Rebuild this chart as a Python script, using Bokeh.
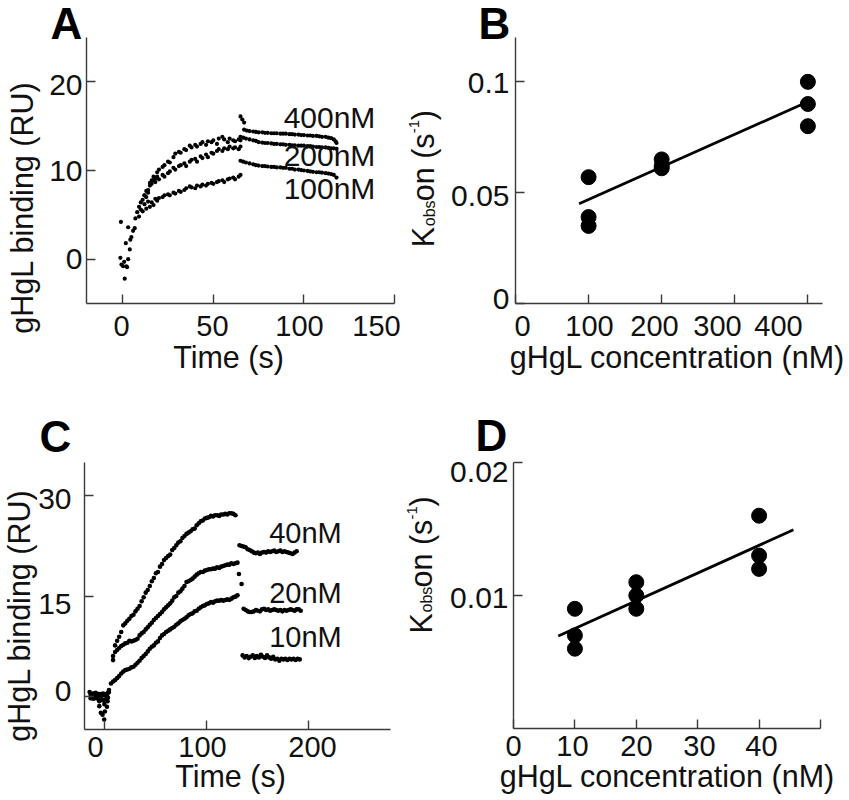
import math
from bokeh.embed import file_html
from bokeh.resources import INLINE
from bokeh.layouts import column, row
from bokeh.models import FixedTicker, Label, LinearAxis, Range1d
from bokeh.plotting import figure

# ---------- panel A: sensorgrams ----------
a_inj_t = [-1, -1.3, -0.7, 0.2, 2, 3, 1.1, 1.7, 4.2, 4.8, 3.9, 3, 5.7, 6.6, 0.8, 2.4]
a_inj_y = [4.2, 0.15, -0.6, -0.8, -0.8, 0, -2.2, 1.8, 2.2, 2.5, 1.1, 3.6, 3.2, 3.5, -0.3, -0.9]
a400_t = [9, 10, 11, 12, 13, 14, 15, 16, 17, 18, 19, 20, 22, 23, 25, 26, 28, 29, 31, 32, 34, 35, 37, 38, 40, 41, 43, 44, 46, 47, 49, 50, 52, 53, 55, 56, 58, 59, 61, 62, 64, 65]
a400_y = [5.9, 6.4, 6.7, 7.2, 7.7, 7.5, 8.6, 8.9, 9.3, 9.1, 9.8, 10.1, 10.4, 10.6, 11.0, 10.9, 11.5, 11.9, 12.1, 12.0, 12.4, 12.3, 12.8, 12.6, 12.9, 12.7, 13.0, 13.2, 12.9, 13.3, 13.2, 13.4, 13.0, 13.6, 13.8, 13.5, 13.2, 13.6, 13.4, 13.3, 13.5, 13.4]
a200_t = [12, 13, 14, 15, 16, 17, 18, 19, 20, 22, 23, 25, 26, 28, 29, 31, 32, 34, 35, 37, 38, 40, 41, 43, 44, 46, 47, 49, 50, 52, 53, 55, 56, 58, 59, 61, 62, 64, 65]
a200_y = [7.2, 7.0, 7.8, 8.3, 8.5, 8.9, 8.7, 9.3, 9.0, 9.5, 9.3, 9.7, 9.9, 10.3, 10.1, 10.5, 10.6, 10.8, 10.5, 11.0, 11.2, 11.3, 11.0, 11.6, 11.4, 11.8, 11.5, 12.0, 11.9, 12.2, 12.4, 12.2, 12.5, 12.4, 12.7, 12.5, 12.6, 12.4, 12.7]
a100_t = [7, 8, 9, 10, 11, 12, 13, 14, 15, 16, 17, 18, 19, 20, 22, 23, 25, 26, 28, 29, 31, 32, 34, 35, 37, 38, 40, 41, 43, 44, 46, 47, 49, 50, 52, 53, 55, 56, 58, 59, 61, 62, 64, 65]
a100_y = [4.6, 5.3, 4.8, 5.6, 5.4, 6.2, 5.7, 6.5, 5.9, 6.4, 6.1, 6.8, 6.6, 6.9, 7.0, 7.2, 7.3, 7.2, 7.5, 7.4, 7.7, 7.6, 7.8, 8.0, 8.2, 8.1, 8.0, 8.3, 8.2, 8.4, 8.3, 8.5, 8.6, 8.5, 8.7, 8.8, 8.9, 8.7, 9.0, 9.1, 9.2, 9.0, 9.3, 9.5]
a_spike_t = [65, 66, 67]
a_spike_y = [16.1, 15.75, 15.4]
a400d_t = [67, 68.5, 70, 72, 73.5, 75, 77, 78.5, 80, 82, 83.5, 85, 87, 88.5, 90, 92, 93.5, 95, 97, 98.5, 100, 102, 103.5, 105, 107, 108.5, 110, 112, 113.5, 115, 116.5, 117.5, 118]
a400d_y = [14.6, 14.5, 14.45, 14.4, 14.35, 14.3, 14.3, 14.25, 14.25, 14.2, 14.2, 14.2, 14.15, 14.15, 14.15, 14.1, 14.1, 14.05, 14.05, 14.0, 14.0, 13.95, 13.95, 13.9, 13.9, 13.85, 13.8, 13.8, 13.7, 13.65, 13.5, 13.3, 13.1]
a200d_t = [65, 66.5, 68, 70, 72, 73.5, 75, 77, 78.5, 80, 82, 83.5, 85, 87, 88.5, 90, 92, 93.5, 95, 97, 98.5, 100, 102, 103.5, 105, 107, 108.5, 110, 112, 113.5, 115, 116.5, 118]
a200d_y = [13.8, 13.7, 13.6, 13.5, 13.4, 13.35, 13.2, 13.15, 13.1, 13.1, 13.05, 13.0, 13.0, 12.95, 12.95, 12.9, 12.9, 12.85, 12.85, 12.8, 12.8, 12.8, 12.75, 12.75, 12.7, 12.65, 12.65, 12.6, 12.6, 12.55, 12.5, 12.5, 12.45]
a100d_t = [65, 66.5, 68, 70, 72, 73.5, 75, 77, 78.5, 80, 82, 83.5, 85, 87, 88.5, 90, 92, 93.5, 95, 97, 98.5, 100, 102, 103.5, 105, 107, 108.5, 110, 112, 113.5, 115, 116.5, 118]
a100d_y = [11.1, 11.0, 10.9, 10.8, 10.7, 10.6, 10.55, 10.5, 10.5, 10.45, 10.4, 10.4, 10.35, 10.35, 10.3, 10.3, 10.2, 10.2, 10.1, 10.1, 10.05, 10.0, 9.95, 9.9, 9.85, 9.8, 9.8, 9.75, 9.7, 9.65, 9.6, 9.5, 9.2]

# ---------- panel B: Kobs fit ----------
b_conc = [100, 100, 100, 200, 200, 200, 400, 400, 400]
b_kobs = [0.057, 0.039, 0.035, 0.065, 0.062, 0.061, 0.1, 0.09, 0.08]
b_fit_x = [87, 400]
b_fit_y = [0.045, 0.091]

# ---------- panel C: sensorgrams ----------
c_base_t = [-15, -14, -13, -12, -11, -10, -9, -8, -7, -6, -5, -4, -3, -2, -1, 0, 1, 2, 3, 4, -14, -12, -10, -8, -6, -4, -2, 0, 2, 4, 3]
c_base_y = [0.6, 0.2, -0.3, 0.4, -0.4, 0.1, 0.5, -0.3, 0.2, -0.5, 0.3, -0.4, 0.1, -0.6, 0.2, -0.5, 0.1, -0.3, 0.5, 0.9, -0.3, -0.2, 0.4, 0.2, 0.3, -0.1, 0.4, 0.3, 0.2, 0.6, -0.2]
c_dip_t = [-5.5, -4, -2.3, -0.7, 0, -0.5, 2.6, -5.5, 2]
c_dip_y = [-1.5, -2.5, -2.8, -3.5, -2.3, -1.2, -0.75, -0.75, -1.6]
c40_t = [8, 10, 12, 14, 16, 18, 20, 22, 24, 26, 28, 30, 32, 34, 36, 38, 40, 42, 44, 46, 48, 50, 52, 54, 56, 58, 60, 62, 64, 66, 68, 70, 72, 74, 76, 78, 80, 82, 84, 86, 88, 90, 92, 94, 96, 98, 100, 102, 104, 106, 108, 110, 112, 114, 116, 118, 120, 122, 124, 126, 128]
c40_y = [5.4, 7.6, 8.3, 8.9, 9.6, 10.6, 10.9, 11.3, 11.6, 12.0, 12.2, 12.7, 13.1, 13.5, 14.2, 14.8, 15.5, 15.9, 16.5, 17.2, 17.7, 18.4, 18.6, 19.4, 19.8, 20.4, 20.7, 21.0, 21.2, 21.9, 22.2, 22.6, 23.0, 23.2, 23.7, 24.0, 24.3, 24.5, 24.7, 25.0, 25.1, 25.6, 25.9, 26.2, 26.3, 26.6, 26.7, 26.8, 27.0, 26.9, 27.1, 27.1, 27.0, 27.2, 27.2, 27.3, 27.2, 27.4, 27.4, 27.3, 27.1]
c20_t = [8, 10, 12, 14, 16, 18, 20, 22, 24, 26, 28, 30, 32, 34, 36, 38, 40, 42, 44, 46, 48, 50, 52, 54, 56, 58, 60, 62, 64, 66, 68, 70, 72, 74, 76, 78, 80, 82, 84, 86, 88, 90, 92, 94, 96, 98, 100, 102, 104, 106, 108, 110, 112, 114, 116, 118, 120, 122, 124, 126, 128, 130]
c20_y = [6.0, 6.6, 6.9, 7.2, 7.5, 7.7, 7.9, 8.0, 8.3, 8.2, 8.3, 8.4, 8.6, 9.1, 9.4, 9.6, 10.0, 10.3, 10.7, 11.0, 11.4, 11.7, 12.0, 12.3, 12.6, 13.0, 13.3, 13.6, 13.9, 14.3, 14.8, 15.0, 15.5, 15.7, 16.1, 16.5, 17.1, 17.2, 17.4, 17.6, 17.9, 18.2, 18.4, 18.6, 18.6, 18.8, 18.9, 19.0, 19.0, 19.1, 19.1, 19.3, 19.2, 19.4, 19.5, 19.6, 19.7, 19.7, 19.9, 19.8, 19.9, 20.0]
c10_t = [6, 8, 10, 12, 14, 16, 18, 20, 22, 24, 26, 28, 30, 32, 34, 36, 38, 40, 42, 44, 46, 48, 50, 52, 54, 56, 58, 60, 62, 64, 66, 68, 70, 72, 74, 76, 78, 80, 82, 84, 86, 88, 90, 92, 94, 96, 98, 100, 102, 104, 106, 108, 110, 112, 114, 116, 118, 120, 122, 124, 126, 128, 130]
c10_y = [1.9, 2.2, 2.4, 2.7, 3.0, 3.4, 3.7, 3.9, 4.0, 4.1, 4.3, 4.4, 4.7, 5.0, 5.3, 5.7, 6.0, 6.3, 6.7, 7.1, 7.4, 7.6, 8.0, 8.2, 8.7, 9.1, 9.3, 9.6, 9.8, 10.0, 10.2, 10.4, 10.7, 10.9, 11.2, 11.4, 11.6, 11.8, 12.1, 12.3, 12.4, 12.7, 12.8, 13.1, 13.3, 13.5, 13.6, 13.8, 13.9, 14.1, 14.0, 14.2, 14.3, 14.3, 14.4, 14.3, 14.4, 14.5, 14.4, 14.6, 14.8, 14.9, 15.1]
c_drop_t = [131.4, 134]
c_drop_y = [18.3, 16.8]
c40d_t = [132, 134, 136, 138, 140, 142, 144, 146, 148, 150, 152, 154, 156, 158, 160, 162, 164, 166, 168, 170, 172, 174, 176, 178, 180, 182, 184, 186, 188]
c40d_y = [22.6, 22.5, 22.4, 22.3, 22.0, 21.9, 21.7, 21.5, 21.4, 21.5, 21.3, 21.5, 21.6, 21.5, 21.7, 21.6, 21.7, 21.8, 21.6, 21.7, 21.8, 21.6, 21.7, 21.6, 21.5, 21.4, 21.3, 21.5, 21.7]
c20d_t = [136, 138, 140, 142, 144, 146, 148, 150, 152, 154, 156, 158, 160, 162, 164, 166, 168, 170, 172, 174, 176, 178, 180, 182, 184, 186, 188, 190, 192]
c20d_y = [13.1, 12.9, 12.7, 12.6, 12.6, 12.7, 12.9, 12.8, 12.7, 13.0, 13.1, 12.9, 13.0, 12.8, 12.9, 13.0, 12.9, 12.8, 12.9, 12.7, 12.9, 12.8, 12.9, 13.0, 12.9, 12.8, 13.0, 13.0, 12.8]
c10d_t = [135, 137, 139, 141, 143, 145, 147, 149, 151, 153, 155, 157, 159, 161, 163, 165, 167, 169, 171, 173, 175, 177, 179, 181, 183, 185, 187, 189, 191]
c10d_y = [6.1, 5.8, 6.0, 5.7, 5.9, 6.1, 5.7, 6.0, 5.8, 6.2, 5.9, 5.7, 6.1, 5.8, 5.6, 5.9, 5.5, 5.6, 5.3, 5.6, 5.5, 5.6, 5.4, 5.6, 5.5, 5.6, 5.4, 5.6, 5.5]

# ---------- panel D: Kobs fit ----------
d_conc = [10, 10, 10, 20, 20, 20, 40, 40, 40]
d_kobs = [0.009, 0.007, 0.006, 0.011, 0.01, 0.009, 0.016, 0.013, 0.012]
d_fit_x = [7.3, 45.6]
d_fit_y = [0.00696, 0.01494]

# ---------- ticks and their printed labels ----------
a_xticks, a_xlabels = [0, 50, 100, 150], ["0", "50", "100", "150"]
a_yticks, a_ylabels = [0, 10, 20], ["0", "10", "20"]
b_xticks, b_xlabels = [0, 100, 200, 300, 400], ["0", "100", "200", "300", "400"]
b_yticks, b_ylabels = [0, 0.05, 0.1], ["0", "0.05", "0.1"]
c_xticks, c_xlabels = [0, 100, 200], ["0", "100", "200"]
c_yticks, c_ylabels = [0, 15, 30], ["0", "15", "30"]
d_xticks, d_xlabels = [0, 10, 20, 30, 40, 50], ["0", "10", "20", "30", "40"]
d_yticks, d_ylabels = [0.01, 0.02], ["0.01", "0.02"]

FONT = "Liberation Sans"
AXC = "#3a3a3a"
TITLE = 30.5


class Panel:
    """A figure whose frame fills its canvas; the axes are pinned inside it."""

    def __init__(self, ox, oy, w, h, box, xr, yr):
        fl, fr, ft, fb = box
        self.sx = (xr[1] - xr[0]) / (fr - fl)
        self.sy = (yr[1] - yr[0]) / (fb - ft)
        self.fl, self.fb, self.xr, self.yr = fl, fb, xr, yr
        self.p = figure(
            width=w, height=h,
            x_range=Range1d(self.dx(ox), self.dx(ox + w)),
            y_range=Range1d(self.dy(oy + h), self.dy(oy)),
            x_axis_type=None, y_axis_type=None,
            min_border_left=0, min_border_right=0, min_border_top=0, min_border_bottom=0,
            output_backend="svg", toolbar_location=None,
            outline_line_color=None, background_fill_color="white", border_fill_color=None,
        )

    def dx(self, px):
        return self.xr[0] + (px - self.fl) * self.sx

    def dy(self, py):
        return self.yr[0] + (self.fb - py) * self.sy

    def axes(self, xticks, xlabels, xlabel_px, xstand, yticks, ylabels, ylabel_px, ystand,
             xsize="29px", ysize="30px"):
        common = dict(minor_tick_line_color=None, major_tick_in=9, major_tick_out=0,
                      axis_line_color=AXC, major_tick_line_color=AXC,
                      axis_line_width=1.4, major_tick_line_width=1.4, major_label_standoff=0)
        self.p.add_layout(LinearAxis(
            ticker=FixedTicker(ticks=xticks), major_label_overrides={t: "" for t in xticks},
            fixed_location=self.yr[0], bounds=self.xr, **common), "below")
        self.p.add_layout(LinearAxis(
            ticker=FixedTicker(ticks=yticks), major_label_overrides={t: "" for t in yticks},
            fixed_location=self.xr[0], bounds=self.yr, **common), "left")
        # printed labels, which sit a little off their ticks in the original
        xpos = [self.dx(v) for v in xlabel_px]
        ypos = [self.dy(v) for v in ylabel_px]
        quiet = dict(axis_line_color=None, major_tick_line_color=None, minor_tick_line_color=None,
                     major_tick_in=0, major_tick_out=0, major_label_text_font=FONT,
                     major_label_text_color="#111111")
        self.p.add_layout(LinearAxis(
            ticker=FixedTicker(ticks=xpos), major_label_overrides=dict(zip(xpos, xlabels)),
            fixed_location=self.yr[0], major_label_standoff=xstand,
            major_label_text_font_size=xsize, **quiet), "below")
        self.p.add_layout(LinearAxis(
            ticker=FixedTicker(ticks=ypos), major_label_overrides=dict(zip(ypos, ylabels)),
            fixed_location=self.xr[0], major_label_standoff=ystand,
            major_label_text_font_size=ysize, **quiet), "left")

    def text(self, px, py, s, size=TITLE, bold=False, angle=0, align="center", base="middle", color="#111111"):
        self.p.add_layout(Label(
            x=self.dx(px), y=self.dy(py), text=s, text_font=FONT, text_font_size=f"{size}px",
            text_font_style="bold" if bold else "normal", angle=angle, angle_units="rad",
            text_align=align, text_baseline=base, text_color=color,
        ))

    def kobs(self, base_px, start_py):
        up = math.pi / 2
        y = start_py
        self.text(base_px, y, "K", TITLE, angle=up, align="left", base="alphabetic")
        y -= 21
        self.text(base_px + 6, y, "obs", 16, angle=up, align="left", base="alphabetic")
        y -= 25
        self.text(base_px, y, "on (s", TITLE, angle=up, align="left", base="alphabetic")
        y -= 68
        self.text(base_px - 9, y, "-1", 15, angle=up, align="left", base="alphabetic")
        y -= 13
        self.text(base_px, y, ")", TITLE, angle=up, align="left", base="alphabetic")


def dots(p, xs, ys, size=4.2):
    p.scatter(xs, ys, size=size, marker="circle", color="black", line_color="black", line_width=0)


# ---------- A ----------
A = Panel(0, 0, 405, 400, (86, 394, 37, 303), (-20, 150), (-5, 25))
A.axes(a_xticks, a_xlabels, [121, 212, 299, 376], 12, a_yticks, a_ylabels, [258, 170, 84], 4)
for xs, ys in [(a_inj_t, a_inj_y), (a400_t, a400_y), (a200_t, a200_y), (a100_t, a100_y),
               (a_spike_t, a_spike_y), (a400d_t, a400d_y), (a200d_t, a200d_y), (a100d_t, a100d_y)]:
    dots(A.p, xs, ys)
A.text(66, 23, "A", 44, bold=True, color="black")
A.text(228, 356, "Time (s)")
A.text(21, 207, "gHgL binding (RU)", angle=math.pi / 2)
A.text(329, 117, "400nM", 30)
A.text(329, 155, "200nM", 30)
A.text(329, 188, "100nM", 30)

# ---------- B ----------
B = Panel(405, 0, 440, 400, (515, 822, 37, 303), (0, 420), (0, 0.12))
B.axes(b_xticks, b_xlabels, [522, 589, 654, 717, 778], 12, b_yticks, b_ylabels, [298, 195, 82], 6)
B.p.scatter(b_conc, b_kobs, size=15, marker="circle", color="black")
B.p.line(b_fit_x, b_fit_y, line_color="black", line_width=2.8)
B.text(494, 23, "B", 44, bold=True, color="black")
B.text(677, 356, "gHgL concentration (nM)")
B.kobs(422.5, 246.7)

# ---------- C ----------
C = Panel(0, 400, 395, 395, (84, 390, 462, 729), (-20, 280), (-5, 35))
C.axes(c_xticks, c_xlabels, [95, 202, 312], 7, c_yticks, c_ylabels, [690, 603, 498], 13)
for xs, ys in [(c_base_t, c_base_y), (c_dip_t, c_dip_y), (c40_t, c40_y), (c20_t, c20_y), (c10_t, c10_y),
               (c_drop_t, c_drop_y), (c40d_t, c40d_y), (c20d_t, c20d_y), (c10d_t, c10d_y)]:
    dots(C.p, xs, ys, 4.6)
C.text(55, 436, "C", 44, bold=True, color="black")
C.text(230, 775, "Time (s)")
C.text(18, 615, "gHgL binding (RU)", angle=math.pi / 2)
C.text(305, 532, "40nM", 29)
C.text(305, 592, "20nM", 29)
C.text(305, 636, "10nM", 29)

# ---------- D ----------
D = Panel(395, 400, 450, 395, (513, 820, 462, 728), (0, 50), (0, 0.02))
D.axes(d_xticks, d_xlabels, [513, 572, 636, 699, 761], 7, d_yticks, d_ylabels, [597, 471], 5)
D.p.scatter(d_conc, d_kobs, size=15, marker="circle", color="black")
D.p.line(d_fit_x, d_fit_y, line_color="black", line_width=2.8)
D.text(491, 435, "D", 44, bold=True, color="black")
D.text(667, 775, "gHgL concentration (nM)")
D.kobs(420, 633)

page = column(row(A.p, B.p), row(C.p, D.p))
open("out.html", "w").write(file_html(page, INLINE))
